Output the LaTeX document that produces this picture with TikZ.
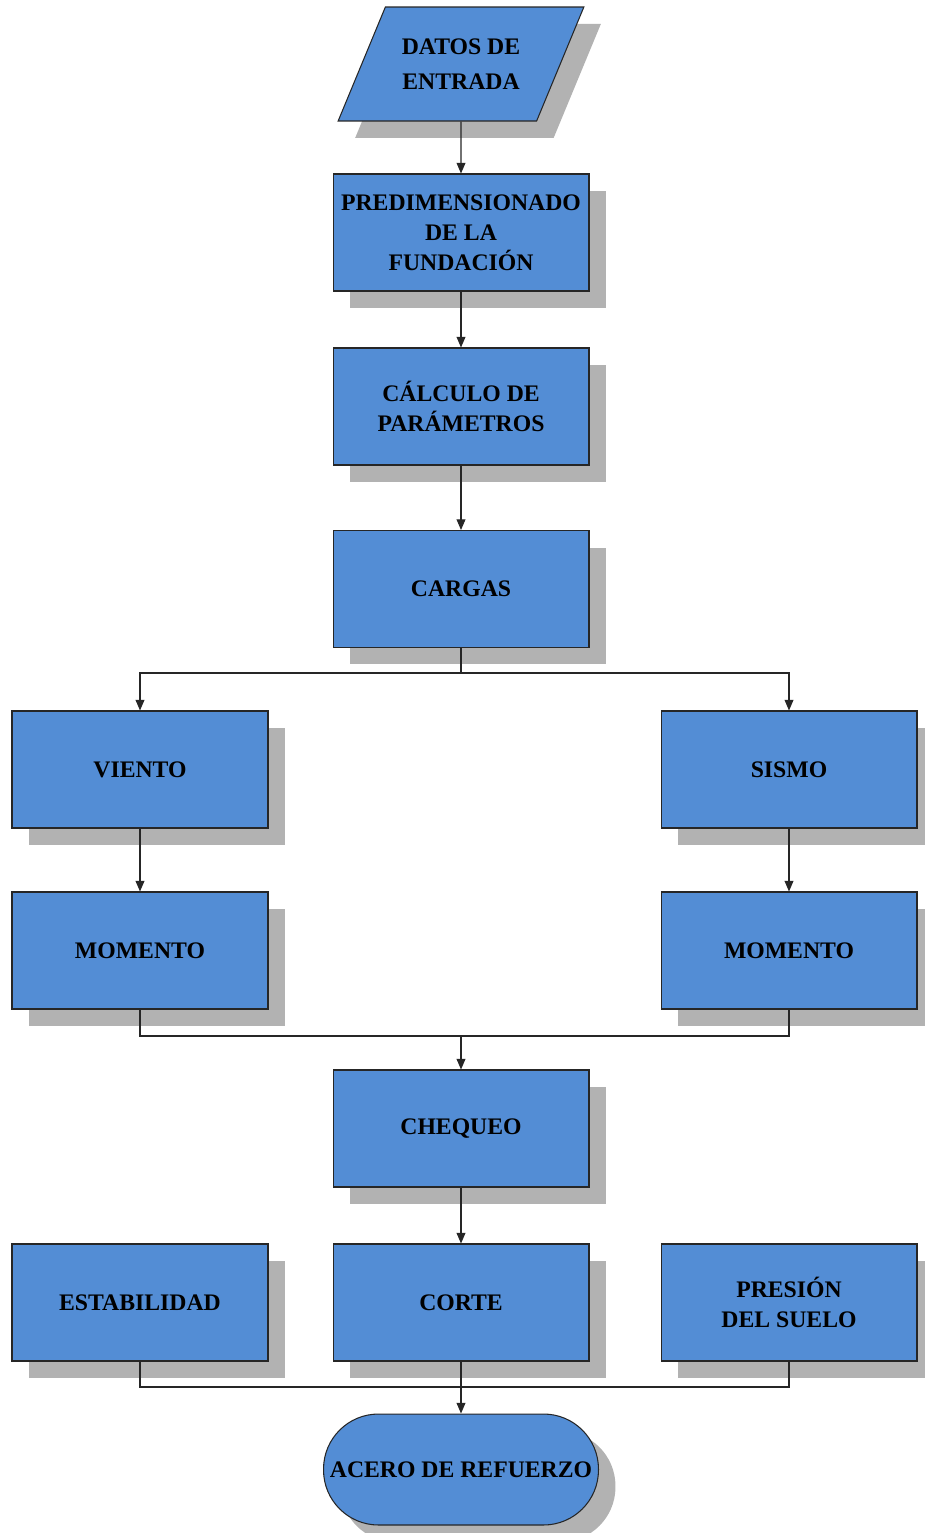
\documentclass[tikz,border=0pt]{standalone}
\usepackage{fontspec}
\setmainfont{Liberation Serif}
\usetikzlibrary{shapes.geometric,shadows,arrows.meta}

\definecolor{azul}{RGB}{83,141,213}
\definecolor{gris}{RGB}{178,178,178}

\tikzset{
    sombra/.style={drop shadow={shadow xshift=0.34cm, shadow yshift=-0.34cm, fill=gris, opacity=1}},
    texto/.style={align=center, font=\fontsize{13.5}{17}\selectfont\bfseries, inner sep=0pt},
    paso/.style={rectangle, draw=black!85, line width=0.6pt, fill=azul, minimum width=5.12cm, minimum height=2.34cm, texto, sombra},
    entrada/.style={trapezium, trapezium left angle=54, trapezium right angle=126, trapezium stretches=true,
        draw=black!85, line width=0.6pt, fill=azul, minimum width=4.92cm, minimum height=2.28cm, texto, sombra},
    fin/.style={rectangle, rounded corners=1.1cm, draw=black!85, line width=0.6pt, fill=azul, minimum width=5.5cm, minimum height=2.22cm, texto, sombra},
    flecha/.style={-{Triangle[length=6pt,width=5pt]}, line width=0.6pt, black!85},
    linea/.style={line width=0.6pt, black!85}
}

\begin{document}
\begin{tikzpicture}[x=0.02cm, y=-0.02cm]
    \useasboundingbox (0,0) rectangle (924,1533);

    % Entrada y columna central
    \node[entrada, font=\fontsize{13.5}{20}\selectfont\bfseries] (datos) at (461,64) {DATOS DE\\ENTRADA};
    \node[paso] (predim) at (461,232.5) {PREDIMENSIONADO\\DE LA\\FUNDACIÓN};
    \node[paso] (calculo) at (461,406.5) {CÁLCULO DE\\PARÁMETROS};
    \node[paso] (cargas) at (461,589) {CARGAS};

    % Ramas de cargas
    \node[paso] (viento) at (140,769.5) {VIENTO};
    \node[paso] (sismo) at (789,769.5) {SISMO};
    \node[paso] (momi) at (140,950.5) {MOMENTO};
    \node[paso] (momd) at (789,950.5) {MOMENTO};

    % Chequeos
    \node[paso] (chequeo) at (461,1128.5) {CHEQUEO};
    \node[paso] (estab) at (140,1302.5) {ESTABILIDAD};
    \node[paso] (corte) at (461,1302.5) {CORTE};
    \node[paso] (presion) at (789,1302.5) {PRESIÓN\\DEL SUELO};

    % Salida
    \node[fin] (acero) at (461,1469.5) {ACERO DE REFUERZO};

    % Conexiones
    \draw[flecha] (datos) -- (predim);
    \draw[flecha] (predim) -- (calculo);
    \draw[flecha] (calculo) -- (cargas);

    \coordinate (rama) at (461,673);
    \draw[linea] (cargas) -- (rama);
    \draw[flecha] (rama) -| (viento);
    \draw[flecha] (rama) -| (sismo);
    \draw[flecha] (viento) -- (momi);
    \draw[flecha] (sismo) -- (momd);

    \coordinate (junta) at (461,1036);
    \draw[linea] (momi) |- (junta);
    \draw[linea] (momd) |- (junta);
    \draw[flecha] (junta) -- (chequeo);
    \draw[flecha] (chequeo) -- (corte);

    \coordinate (union) at (461,1387);
    \draw[linea] (estab) |- (union);
    \draw[linea] (presion) |- (union);
    \draw[flecha] (corte) -- (acero);
\end{tikzpicture}
\end{document}
